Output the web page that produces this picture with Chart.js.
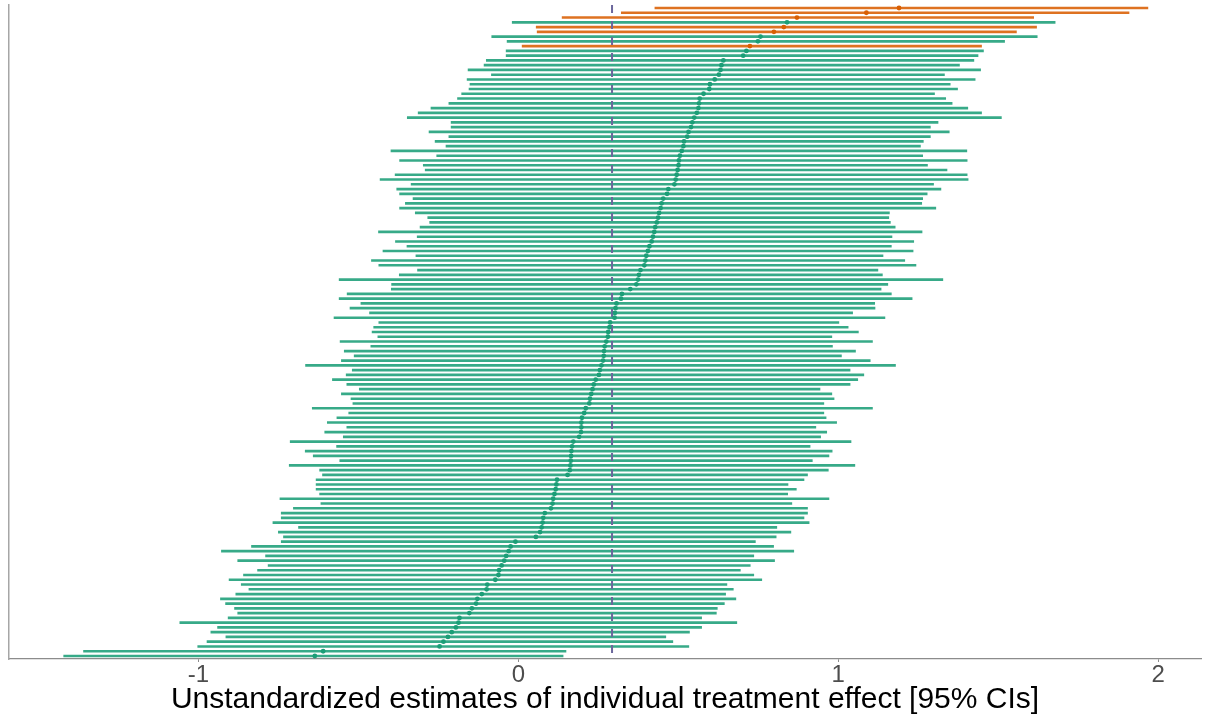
<!DOCTYPE html>
<html>
<head>
<meta charset="utf-8">
<title>Individual treatment effects</title>
<script src="https://cdn.jsdelivr.net/npm/chart.js@4.4.1/dist/chart.umd.min.js"></script>
<style>
  html, body { margin:0; padding:0; background:#fff; }
  #wrap { width:1205px; height:720px; }
</style>
</head>
<body>
<div id="wrap"><canvas id="itcChart" width="1205" height="720"></canvas></div>
<script>
// ── Data (rows listed top to bottom, sorted by estimate) ──
const LOWER = [
  0.427, 0.322, 0.137, -0.019, 0.056, 0.059, -0.083, -0.035, 0.012, -0.038,
  -0.038, -0.100, -0.107, -0.157, -0.084, -0.160, -0.151, -0.154, -0.177, -0.190,
  -0.217, -0.273, -0.313, -0.347, -0.210, -0.210, -0.279, -0.217, -0.260, -0.226,
  -0.398, -0.255, -0.371, -0.297, -0.291, -0.385, -0.432, -0.335, -0.380, -0.371,
  -0.329, -0.353, -0.371, -0.322, -0.283, -0.277, -0.307, -0.437, -0.316, -0.384,
  -0.348, -0.423, -0.320, -0.459, -0.436, -0.315, -0.372, -0.560, -0.396, -0.397,
  -0.535, -0.560, -0.492, -0.526, -0.465, -0.576, -0.436, -0.452, -0.457, -0.439,
  -0.557, -0.461, -0.544, -0.513, -0.553, -0.665, -0.519, -0.538, -0.581, -0.536,
  -0.497, -0.553, -0.523, -0.517, -0.644, -0.530, -0.567, -0.597, -0.536, -0.605,
  -0.547, -0.713, -0.568, -0.666, -0.641, -0.558, -0.716, -0.621, -0.612, -0.632,
  -0.632, -0.632, -0.621, -0.745, -0.617, -0.703, -0.741, -0.741, -0.767, -0.687,
  -0.750, -0.734, -0.741, -0.834, -0.928, -0.790, -0.877, -0.782, -0.815, -0.859,
  -0.904, -0.866, -0.842, -0.883, -0.931, -0.915, -0.887, -0.877, -0.907, -1.058,
  -0.940, -0.961, -0.914, -0.973, -1.002, -1.359, -1.421
];
const ESTIMATE = [
  1.190, 1.088, 0.871, 0.840, 0.830, 0.799, 0.757, 0.749, 0.724, 0.713,
  0.703, 0.641, 0.635, 0.632, 0.627, 0.614, 0.599, 0.597, 0.579, 0.567,
  0.565, 0.563, 0.558, 0.550, 0.544, 0.540, 0.532, 0.528, 0.518, 0.516,
  0.511, 0.505, 0.502, 0.501, 0.498, 0.495, 0.492, 0.488, 0.469, 0.465,
  0.453, 0.448, 0.445, 0.440, 0.437, 0.433, 0.428, 0.425, 0.421, 0.417,
  0.410, 0.405, 0.400, 0.397, 0.394, 0.382, 0.377, 0.374, 0.369, 0.350,
  0.324, 0.321, 0.307, 0.304, 0.302, 0.301, 0.287, 0.285, 0.281, 0.280,
  0.275, 0.270, 0.268, 0.267, 0.265, 0.260, 0.255, 0.252, 0.242, 0.236,
  0.232, 0.228, 0.224, 0.222, 0.211, 0.206, 0.199, 0.197, 0.197, 0.196,
  0.190, 0.172, 0.168, 0.166, 0.165, 0.164, 0.163, 0.161, 0.154, 0.121,
  0.119, 0.117, 0.113, 0.109, 0.107, 0.102, 0.083, 0.078, 0.076, 0.073,
  0.068, 0.055, -0.009, -0.024, -0.030, -0.038, -0.044, -0.052, -0.060, -0.062,
  -0.072, -0.097, -0.099, -0.114, -0.128, -0.132, -0.145, -0.153, -0.184, -0.187,
  -0.195, -0.208, -0.220, -0.234, -0.246, -0.610, -0.636
];
const UPPER = [
  1.968, 1.909, 1.611, 1.678, 1.620, 1.557, 1.622, 1.520, 1.448, 1.454,
  1.437, 1.424, 1.379, 1.445, 1.332, 1.428, 1.350, 1.373, 1.301, 1.336,
  1.356, 1.405, 1.448, 1.510, 1.312, 1.288, 1.347, 1.288, 1.266, 1.257,
  1.402, 1.264, 1.403, 1.279, 1.340, 1.403, 1.406, 1.298, 1.321, 1.278,
  1.264, 1.261, 1.305, 1.160, 1.158, 1.163, 1.178, 1.262, 1.168, 1.236,
  1.166, 1.234, 1.140, 1.208, 1.243, 1.124, 1.138, 1.327, 1.155, 1.134,
  1.166, 1.231, 1.114, 1.115, 1.045, 1.146, 1.002, 1.031, 1.063, 0.980,
  1.107, 0.982, 1.054, 1.010, 1.100, 1.179, 1.037, 1.080, 1.061, 1.037,
  0.943, 0.980, 0.987, 0.955, 1.107, 0.955, 0.962, 0.995, 0.930, 0.964,
  0.945, 1.040, 0.912, 0.981, 0.971, 0.919, 1.052, 0.969, 0.904, 0.893,
  0.843, 0.869, 0.842, 0.971, 0.855, 0.904, 0.904, 0.893, 0.909, 0.808,
  0.852, 0.806, 0.741, 0.798, 0.861, 0.736, 0.801, 0.725, 0.694, 0.736,
  0.761, 0.652, 0.672, 0.648, 0.680, 0.644, 0.622, 0.619, 0.573, 0.683,
  0.573, 0.535, 0.461, 0.483, 0.533, 0.149, 0.140
];
const X_TICKS = [-1, 0, 1, 2];
const REF_EFFECT = 0.293;   // dashed vertical: average effect
const X_RANGE = [-1.592, 2.134];
const X_TITLE = "Unstandardized estimates of individual treatment effect [95% CIs]";

// ── Colours ──────────────────────────────────────
const GREEN = "#1b9e77";
const ORANGE = "#d95f02";
const REF_COLOR = "#6b679c";

const N = ESTIMATE.length;
const rowColor = LOWER.map(lo => lo > 0 ? ORANGE : GREEN);
const rowLine = LOWER.map(lo => lo > 0 ? "rgba(217,95,2,0.88)" : "rgba(27,158,119,0.88)");

// a little over half a row of room above the first and below the last row
const Y_MIN = 1 - 0.63;
const Y_MAX = N + 0.63;

// ── Chart ────────────────────────────────────────
new Chart(document.getElementById("itcChart"), {
  type: "bar",
  data: {
    datasets: [
      {
        type: "scatter",
        label: "Estimate",
        data: ESTIMATE.map((e, i) => ({ x: e, y: i + 1 })),
        pointRadius: 2.4,
        pointBackgroundColor: rowColor,
        pointBorderWidth: 0,
      },
      {
        type: "line",
        label: "Mean effect",
        data: [{ x: REF_EFFECT, y: Y_MIN }, { x: REF_EFFECT, y: Y_MAX }],
        borderColor: REF_COLOR,
        borderWidth: 2,
        borderDash: [8, 8],
        pointRadius: 0,
      },
      {
        type: "bar",
        label: "95% CI",
        data: LOWER.map((lo, i) => ({ x: [lo, UPPER[i]], y: i + 1 })),
        backgroundColor: rowLine,
        borderWidth: 0,
        borderSkipped: false,
        barThickness: 2,
      },
    ],
  },
  options: {
    indexAxis: "y",
    responsive: false,
    devicePixelRatio: 1,
    animation: false,
    layout: { padding: { top: 5, right: -5, bottom: 0, left: 0 } },
    plugins: {
      legend: { display: false },
      tooltip: { enabled: false },
    },
    scales: {
      x: {
        type: "linear",
        min: X_RANGE[0],
        max: X_RANGE[1],
        offset: false,
        afterBuildTicks: scale => { scale.ticks = X_TICKS.map(v => ({ value: v })); },
        afterFit: scale => { scale.height = 61; },
        ticks: {
          padding: -1,
          color: "#4d4d4d",
          font: { family: "'Liberation Sans', Arial, sans-serif", size: 24 },
          callback: (v, i) => String(X_TICKS[i]),
        },
        grid: { display: true, drawOnChartArea: false, drawTicks: true, tickLength: 3, color: "#8c8c8c" },
        border: { display: true, color: "#8c8c8c", width: 1.3 },
        title: {
          display: true,
          text: X_TITLE,
          color: "#000",
          padding: { top: 0, bottom: 2 },
          font: { family: "'Liberation Sans', Arial, sans-serif", size: 30 },
        },
      },
      y: {
        type: "linear",
        reverse: true,
        min: Y_MIN,
        max: Y_MAX,
        offset: false,
        afterFit: scale => { scale.width = 9; },
        ticks: { display: false },
        grid: { display: false },
        border: { display: true, color: "#a6a6a6", width: 1.5 },
      },
    },
  },
});
</script>
</body>
</html>
